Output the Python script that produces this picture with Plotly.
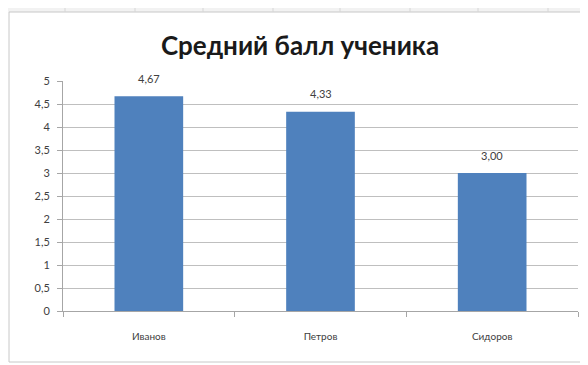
import plotly.graph_objects as go

students = ["Иванов", "Петров", "Сидоров"]
scores = [4.67, 4.33, 3.00]
y_ticks = [0, 0.5, 1, 1.5, 2, 2.5, 3, 3.5, 4, 4.5, 5]
y_tick_labels = ["0", "0,5", "1", "1,5", "2", "2,5", "3", "3,5", "4", "4,5", "5"]
title_text = "Средний балл ученика"

# page offset (body margin) compensation
OFF = 8
W, H = 588, 365
# desired plot area in page pixels
PL, PR, PT, PB = 63, 578, 81, 311
L = PL - OFF
T = PT - OFF
R = W - (PR - OFF)
B = H - (PB - OFF)
pw, ph = PR - PL, PB - PT

def px(X):
    return (X - PL) / pw

def py(Y):
    return (PB - Y) / ph

FONT = "Lato, Open Sans, sans-serif"

fig = go.Figure(go.Bar(
    x=students, y=scores, width=0.4,
    marker=dict(color="#4F81BD", line=dict(width=0)),
))

annotations = [
    dict(x=s, y=v, xref="x", yref="y", text=f"{v:.2f}".replace(".", ","),
         showarrow=False, yanchor="middle", yshift=18,
         font=dict(family=FONT, size=11, color="#404040"))
    for s, v in zip(students, scores)
]

shapes = [
    dict(type="rect", xref="paper", yref="paper", x0=px(-10), x1=px(W + 10), y0=py(12), y1=py(-10),
         fillcolor="#F2F2F2", line=dict(width=0), layer="below"),
    dict(type="rect", xref="paper", yref="paper", x0=px(9), x1=px(W + 5), y0=py(362), y1=py(12),
         fillcolor="white", line=dict(color="#C8C8C8", width=1), layer="below"),
]
for cx in [65, 135, 203, 273, 340, 410, 478, 548]:
    shapes.append(dict(type="line", xref="paper", yref="paper", x0=px(cx), x1=px(cx),
                       y0=py(12), y1=py(0), line=dict(color="#D6D6D6", width=1), layer="below"))

fig.update_layout(
    width=W, height=H,
    margin=dict(l=L, r=R, t=T, b=B),
    paper_bgcolor="white", plot_bgcolor="white",
    title=dict(text=f"<b>{title_text}</b>", x=(300 - OFF) / W, xref="container", xanchor="center",
               y=1 - (46 - OFF) / H, yref="container", yanchor="middle",
               font=dict(family=FONT, size=26, color="#1a1a1a")),
    showlegend=False,
    shapes=shapes,
    annotations=annotations,
    xaxis=dict(showline=True, linecolor="#A6A6A6", linewidth=1,
               ticks="outside", tickson="boundaries", ticklen=5, tickcolor="#A6A6A6",
               ticklabelstandoff=16,
               tickfont=dict(family=FONT, size=10, color="#404040"),
               showgrid=False),
    yaxis=dict(range=[0, 5], tickvals=y_ticks, ticktext=y_tick_labels,
               showline=True, linecolor="#A6A6A6", linewidth=1,
               ticks="outside", ticklen=5, tickcolor="#A6A6A6",
               ticklabelstandoff=5,
               showgrid=True, gridcolor="#BFBFBF", gridwidth=1,
               zeroline=False,
               tickfont=dict(family=FONT, size=11, color="#404040")),
)

fig.write_html("out.html")
